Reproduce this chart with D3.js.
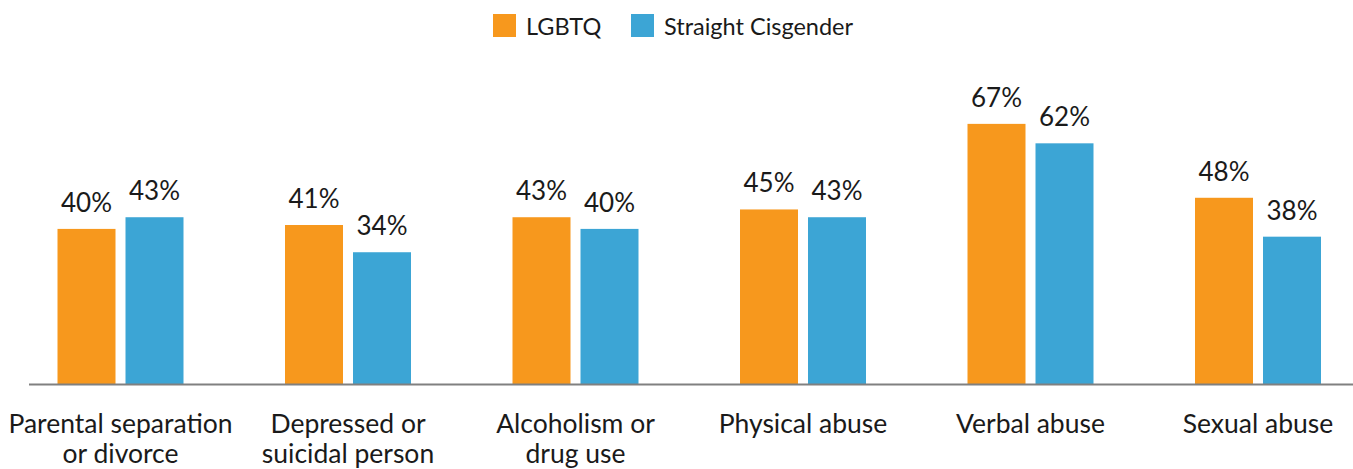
<!DOCTYPE html>
<meta charset="utf-8">
<style>
  body { margin: 0; background: #fff; }
  svg { display: block; font-family: Lato, "Open Sans", sans-serif; }
  .val { font-size: 26px; fill: #1a1a1a; text-anchor: middle; }
  .cat { font-size: 26.5px; fill: #1a1a1a; text-anchor: middle; }
  .legend text { font-size: 23.5px; fill: #1a1a1a; }
</style>
<body>
<svg width="1353" height="469"></svg>
<script src="https://d3js.org/d3.v7.min.js"></script>
<script>
  var categories = [
    ["Parental separation", "or divorce"],
    ["Depressed or", "suicidal person"],
    ["Alcoholism or", "drug use"],
    ["Physical abuse"],
    ["Verbal abuse"],
    ["Sexual abuse"]
  ];
  var series = ["LGBTQ", "Straight Cisgender"];
  var lgbtq = [40, 41, 43, 45, 67, 48];
  var straight = [43, 34, 40, 43, 62, 38];
  var colors = ["#f7981d", "#3ca5d5"];

  var svg = d3.select("svg"),
    width = +svg.attr("width"),
    height = +svg.attr("height");

  var keys = categories.map(function(c) { return c.join(" "); });
  var rows = keys.map(function(k, i) {
    return { key: k, lines: categories[i], values: [lgbtq[i], straight[i]] };
  });

  var x0 = d3.scalePoint().domain(keys).range([120.5, 1258]);
  var x1 = d3.scaleBand().domain(series).range([-63, 63]).paddingInner(10 / 68);
  var y = d3.scaleLinear().domain([0, 100]).range([384.5, -4.5]);
  var color = d3.scaleOrdinal().domain(series).range(colors);

  var groups = svg.append("g")
    .selectAll("g")
    .data(rows)
    .enter().append("g")
    .attr("transform", function(d) { return "translate(" + x0(d.key) + ",0)"; });

  groups.selectAll("rect")
    .data(function(d) { return d.values.map(function(v, i) { return { s: series[i], v: v }; }); })
    .enter().append("rect")
    .attr("x", function(d) { return x1(d.s); })
    .attr("width", x1.bandwidth())
    .attr("y", function(d) { return y(d.v); })
    .attr("height", function(d) { return y(0) - y(d.v); })
    .attr("fill", function(d) { return color(d.s); });

  groups.selectAll("text.val")
    .data(function(d) { return d.values.map(function(v, i) { return { s: series[i], v: v }; }); })
    .enter().append("text")
    .attr("class", "val")
    .attr("x", function(d) { return x1(d.s) + x1.bandwidth() / 2; })
    .attr("y", function(d) { return y(d.v) - 17; })
    .text(function(d) { return d.v + "%"; });

  // category labels
  groups.append("text")
    .attr("class", "cat")
    .selectAll("tspan")
    .data(function(d) { return d.lines; })
    .enter().append("tspan")
    .attr("x", 0)
    .attr("y", function(d, i) { return 433 + i * 30; })
    .text(function(d) { return d; });

  // baseline
  svg.append("line")
    .attr("x1", 29).attr("x2", width)
    .attr("y1", y(0)).attr("y2", y(0))
    .attr("stroke", "#808080")
    .attr("stroke-width", 2);

  // legend
  var legend = svg.append("g").attr("class", "legend");
  var legendX = [493, 631];
  var item = legend.selectAll("g")
    .data(series)
    .enter().append("g")
    .attr("transform", function(d, i) { return "translate(" + legendX[i] + ",14)"; });
  item.append("rect")
    .attr("width", 23).attr("height", 23)
    .attr("fill", function(d) { return color(d); });
  item.append("text")
    .attr("x", 33).attr("y", 20.5)
    .text(function(d) { return d; });
</script>
</body>
